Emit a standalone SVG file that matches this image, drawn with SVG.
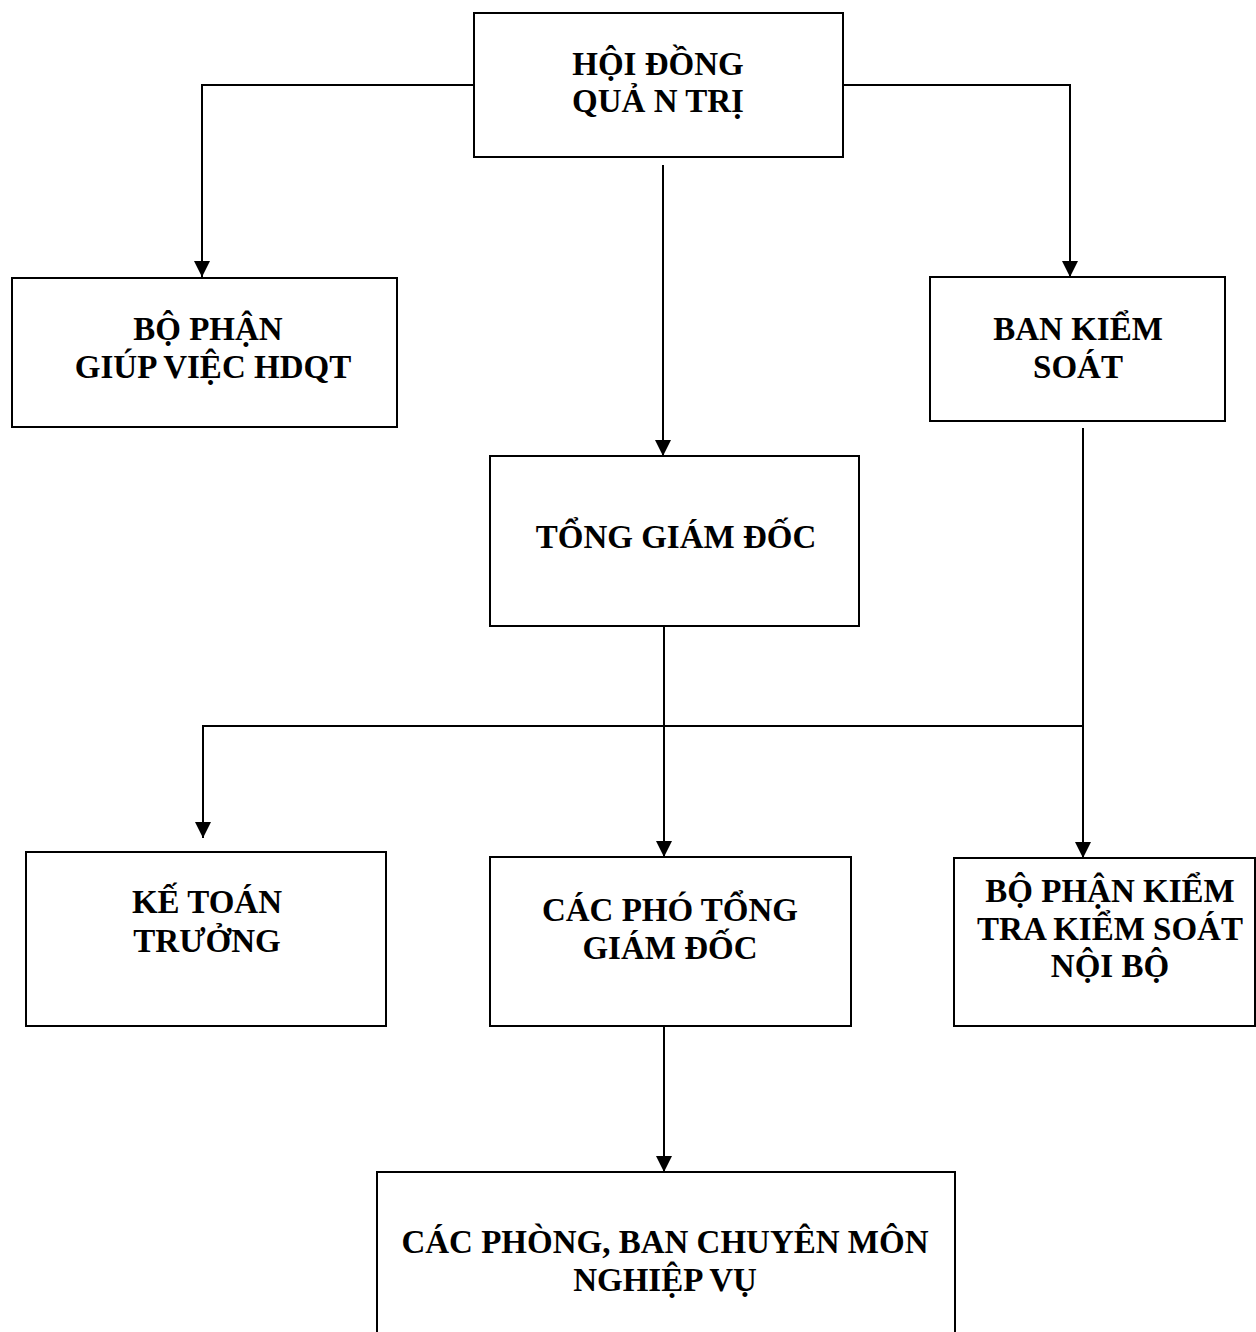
<svg xmlns="http://www.w3.org/2000/svg" width="1256" height="1332" viewBox="0 0 1256 1332">
<defs>
<marker id="arr" markerUnits="userSpaceOnUse" markerWidth="16" markerHeight="16" viewBox="0 0 16 16" refX="16" refY="8" orient="auto">
<path d="M0,0 L16,8 L0,16 Z" fill="#000"/>
</marker>
<style>
.box{fill:#fff;stroke:#000;stroke-width:2}
.lbl{font-family:"Liberation Serif","Times New Roman",serif;font-weight:bold;font-size:33px;fill:#000;text-anchor:middle}
.con{fill:none;stroke:#000;stroke-width:2}
</style>
</defs>
<rect width="1256" height="1332" fill="#fff"/>
<g id="connectors">
<polyline class="con" points="474,85 202,85 202,277" marker-end="url(#arr)"/>
<polyline class="con" points="843,85 1070,85 1070,277" marker-end="url(#arr)"/>
<line class="con" x1="663" y1="165" x2="663" y2="456" marker-end="url(#arr)"/>
<line class="con" x1="664" y1="626" x2="664" y2="857" marker-end="url(#arr)"/>
<line class="con" x1="1083" y1="428" x2="1083" y2="858" marker-end="url(#arr)"/>
<polyline class="con" points="1083,726 203,726 203,838" marker-end="url(#arr)"/>
<line class="con" x1="664" y1="1026" x2="664" y2="1172" marker-end="url(#arr)"/>
</g>
<g id="hdqt">
<rect class="box" x="474" y="13" width="369" height="144"/>
<text class="lbl" x="658" y="75">HỘI ĐỒNG</text>
<text class="lbl" x="658" y="112">QUẢ N TRỊ</text>
</g>
<g id="bpgv">
<rect class="box" x="12" y="278" width="385" height="149"/>
<text class="lbl" x="208" y="340">BỘ PHẬN</text>
<text class="lbl" x="213" y="378">GIÚP VIỆC HDQT</text>
</g>
<g id="bks">
<rect class="box" x="930" y="277" width="295" height="144"/>
<text class="lbl" x="1078" y="340">BAN KIỂM</text>
<text class="lbl" x="1078" y="378">SOÁT</text>
</g>
<g id="tgd">
<rect class="box" x="490" y="456" width="369" height="170"/>
<text class="lbl" x="676" y="548">TỔNG GIÁM ĐỐC</text>
</g>
<g id="ktt">
<rect class="box" x="26" y="852" width="360" height="174"/>
<text class="lbl" x="207" y="913">KẾ TOÁN</text>
<text class="lbl" x="207" y="952">TRƯỞNG</text>
</g>
<g id="cptgd">
<rect class="box" x="490" y="857" width="361" height="169"/>
<text class="lbl" x="670" y="921">CÁC PHÓ TỔNG</text>
<text class="lbl" x="670" y="959">GIÁM ĐỐC</text>
</g>
<g id="bpktks">
<rect class="box" x="954" y="858" width="301" height="168"/>
<text class="lbl" x="1110" y="902">BỘ PHẬN KIỂM</text>
<text class="lbl" x="1110" y="940">TRA KIỂM SOÁT</text>
<text class="lbl" x="1110" y="977">NỘI BỘ</text>
</g>
<g id="cpb">
<rect class="box" x="377" y="1172" width="578" height="200"/>
<text class="lbl" x="665" y="1253">CÁC PHÒNG, BAN CHUYÊN MÔN</text>
<text class="lbl" x="665" y="1291">NGHIỆP VỤ</text>
</g>
</svg>
